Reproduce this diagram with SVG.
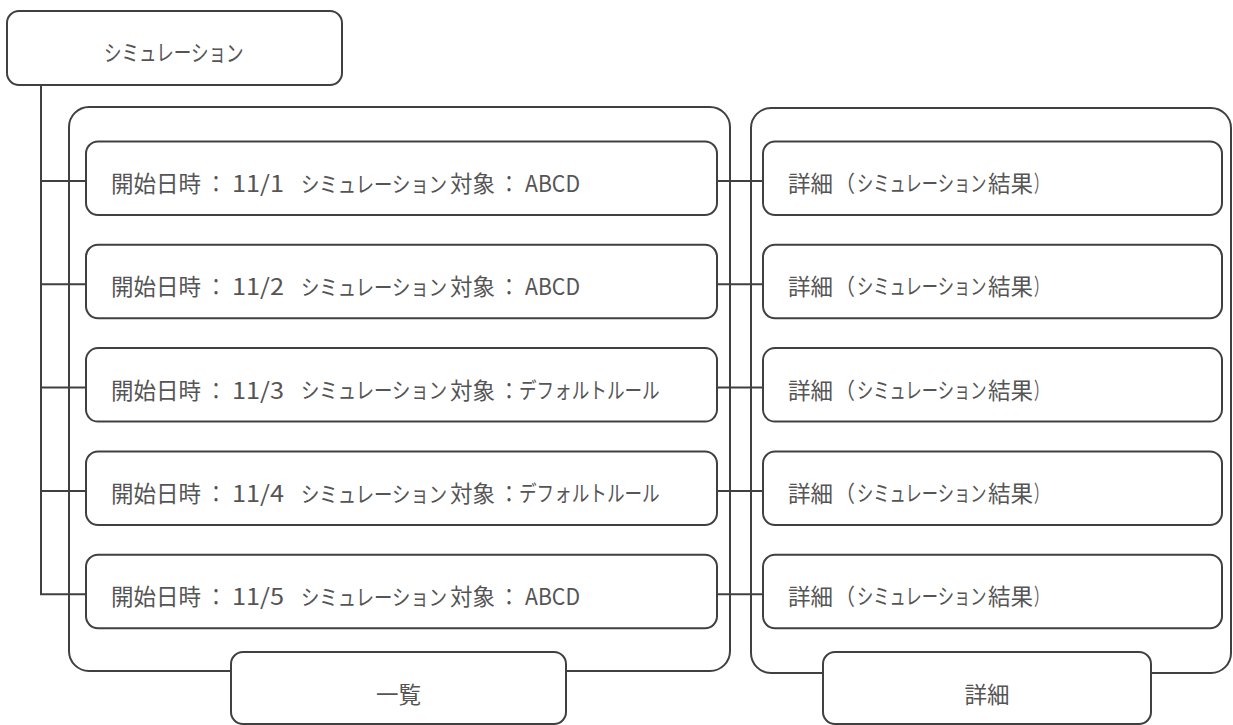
<svg xmlns="http://www.w3.org/2000/svg" width="1233" height="725" viewBox="0 0 1233 725" xml:lang="ja">
<style>
.b{fill:#fff;stroke:#404040;stroke-width:2}
.c{fill:none;stroke:#404040;stroke-width:2}
.t{font-family:"Noto Sans CJK JP","Noto Sans",sans-serif;fill:#555;dominant-baseline:central;font-size:22.5px}
.m{text-anchor:middle}
.k{font-size:22px}
</style>
<defs>
<g id="rowL"><text class="t" y="0"><tspan x="111">開始日時</tspan><tspan x="206" textLength="20" lengthAdjust="spacingAndGlyphs">：</tspan></text><text class="t k" transform="translate(301 0) scale(0.835 1)">シミュレーション</text><text class="t" y="0"><tspan x="450">対象</tspan><tspan x="499" textLength="20" lengthAdjust="spacingAndGlyphs">：</tspan></text></g>
</defs>
<g id="containers">
<rect id="list-container" class="b" x="69" y="107" width="661" height="564" rx="20"/>
<rect id="detail-container" class="b" x="751" y="108" width="480" height="565" rx="20"/>
</g>
<g id="connectors" class="c">
<path d="M41 85V594.3H86"/>
<path d="M41 181H86M41 284.3H86M41 387.6H86M41 491H86"/>
<path d="M717 181H763M717 284.3H763M717 387.6H763M717 491H763M717 594.3H763"/>
</g>
<g id="root"><rect class="b" x="7" y="11" width="335" height="74" rx="12"/><text class="t" transform="translate(104 52) scale(0.78 1)" font-size="21">シミュレーション</text></g>
<g id="item1"><rect class="b" x="86" y="141.5" width="631" height="73.5" rx="12"/><use href="#rowL" y="182"/><text class="t" y="182"><tspan x="232" textLength="52" lengthAdjust="spacingAndGlyphs">11/1</tspan><tspan x="525" textLength="55" lengthAdjust="spacingAndGlyphs">ABCD</tspan></text></g>
<g id="item2"><rect class="b" x="86" y="244.8" width="631" height="73.5" rx="12"/><use href="#rowL" y="285.3"/><text class="t" y="285.3"><tspan x="232" textLength="52" lengthAdjust="spacingAndGlyphs">11/2</tspan><tspan x="525" textLength="55" lengthAdjust="spacingAndGlyphs">ABCD</tspan></text></g>
<g id="item3"><rect class="b" x="86" y="348.1" width="631" height="73.5" rx="12"/><use href="#rowL" y="388.6"/><text class="t" y="388.6"><tspan x="232" textLength="52" lengthAdjust="spacingAndGlyphs">11/3</tspan></text><text class="t k" transform="translate(519 388.6) scale(0.8 1)">デフォルトルール</text></g>
<g id="item4"><rect class="b" x="86" y="451.5" width="631" height="73.5" rx="12"/><use href="#rowL" y="492"/><text class="t" y="492"><tspan x="232" textLength="52" lengthAdjust="spacingAndGlyphs">11/4</tspan></text><text class="t k" transform="translate(519 492) scale(0.8 1)">デフォルトルール</text></g>
<g id="item5"><rect class="b" x="86" y="554.8" width="631" height="73.5" rx="12"/><use href="#rowL" y="595.3"/><text class="t" y="595.3"><tspan x="232" textLength="52" lengthAdjust="spacingAndGlyphs">11/5</tspan><tspan x="525" textLength="55" lengthAdjust="spacingAndGlyphs">ABCD</tspan></text></g>
<g id="detail1"><rect class="b" x="763" y="141.5" width="459" height="73.5" rx="12"/><text class="t" y="182"><tspan x="788">詳細</tspan><tspan x="835" textLength="20" lengthAdjust="spacingAndGlyphs">（</tspan></text><text class="t k" transform="translate(857 182) scale(0.74 1)">シミュレーション</text><text class="t" y="182"><tspan x="988">結果</tspan><tspan x="1034" textLength="14" lengthAdjust="spacingAndGlyphs">）</tspan></text></g>
<g id="detail2"><rect class="b" x="763" y="244.8" width="459" height="73.5" rx="12"/><text class="t" y="285.3"><tspan x="788">詳細</tspan><tspan x="835" textLength="20" lengthAdjust="spacingAndGlyphs">（</tspan></text><text class="t k" transform="translate(857 285.3) scale(0.74 1)">シミュレーション</text><text class="t" y="285.3"><tspan x="988">結果</tspan><tspan x="1034" textLength="14" lengthAdjust="spacingAndGlyphs">）</tspan></text></g>
<g id="detail3"><rect class="b" x="763" y="348.1" width="459" height="73.5" rx="12"/><text class="t" y="388.6"><tspan x="788">詳細</tspan><tspan x="835" textLength="20" lengthAdjust="spacingAndGlyphs">（</tspan></text><text class="t k" transform="translate(857 388.6) scale(0.74 1)">シミュレーション</text><text class="t" y="388.6"><tspan x="988">結果</tspan><tspan x="1034" textLength="14" lengthAdjust="spacingAndGlyphs">）</tspan></text></g>
<g id="detail4"><rect class="b" x="763" y="451.5" width="459" height="73.5" rx="12"/><text class="t" y="492"><tspan x="788">詳細</tspan><tspan x="835" textLength="20" lengthAdjust="spacingAndGlyphs">（</tspan></text><text class="t k" transform="translate(857 492) scale(0.74 1)">シミュレーション</text><text class="t" y="492"><tspan x="988">結果</tspan><tspan x="1034" textLength="14" lengthAdjust="spacingAndGlyphs">）</tspan></text></g>
<g id="detail5"><rect class="b" x="763" y="554.8" width="459" height="73.5" rx="12"/><text class="t" y="595.3"><tspan x="788">詳細</tspan><tspan x="835" textLength="20" lengthAdjust="spacingAndGlyphs">（</tspan></text><text class="t k" transform="translate(857 595.3) scale(0.74 1)">シミュレーション</text><text class="t" y="595.3"><tspan x="988">結果</tspan><tspan x="1034" textLength="14" lengthAdjust="spacingAndGlyphs">）</tspan></text></g>
<g id="label-list"><rect class="b" x="231" y="652" width="335" height="72" rx="12"/><text class="t m" x="398.5" y="693">一覧</text></g>
<g id="label-detail"><rect class="b" x="823" y="652" width="328" height="72" rx="12"/><text class="t m" x="987" y="693">詳細</text></g>
</svg>
